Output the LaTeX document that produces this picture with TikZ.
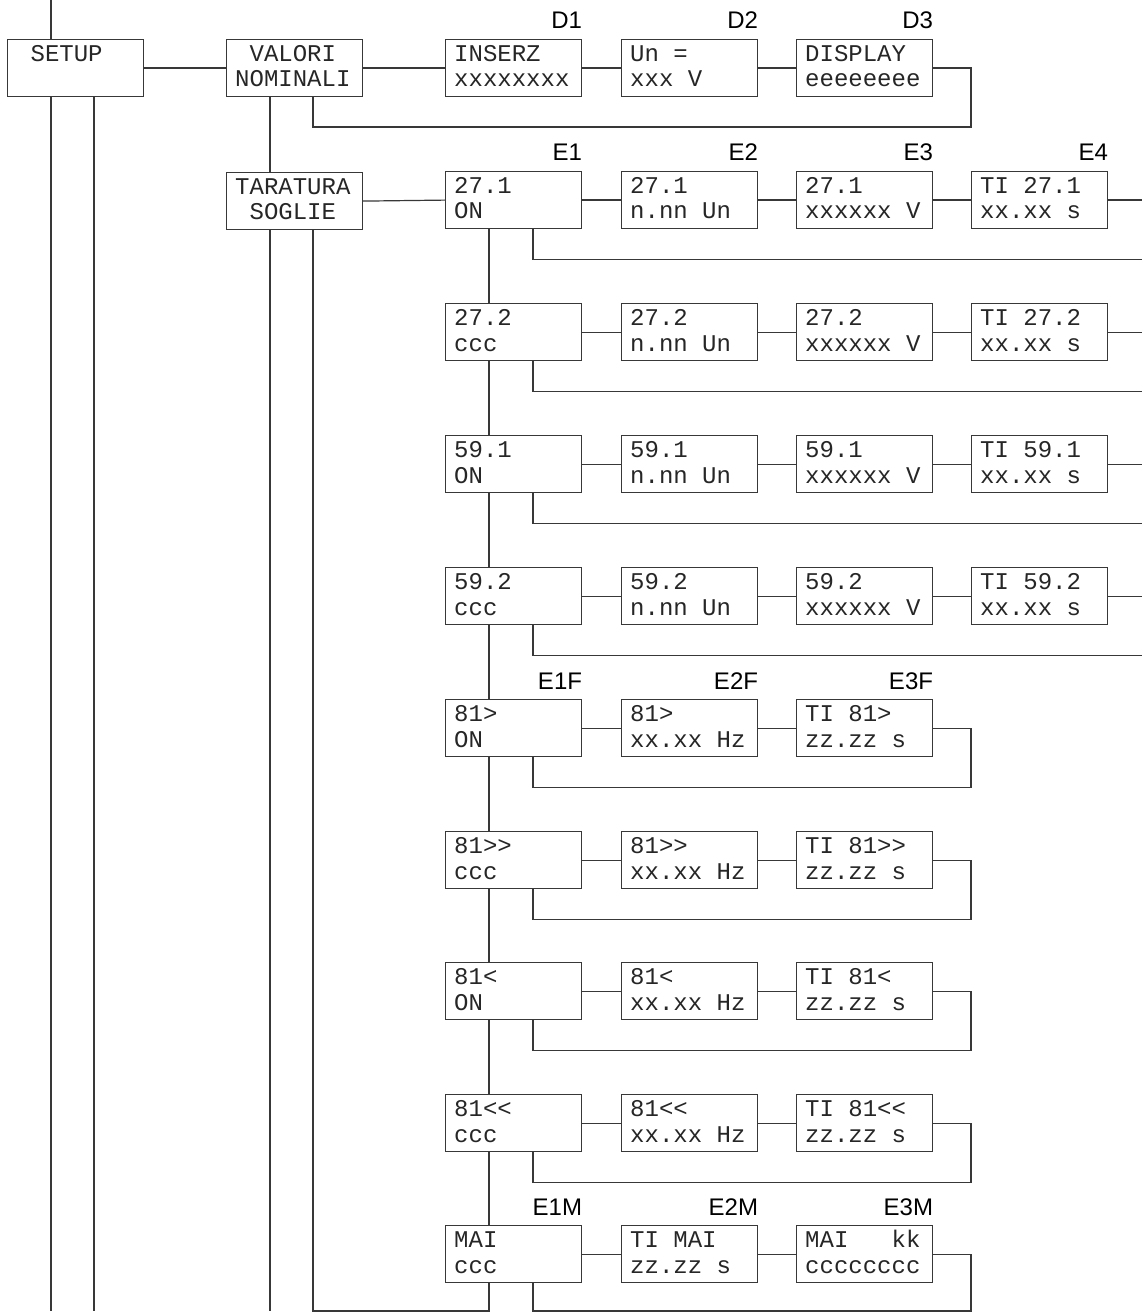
\documentclass[tikz,border=0pt]{standalone}
\usepackage{fontspec}
\setmainfont{Liberation Sans}
\setmonofont{Liberation Mono}
\usetikzlibrary{calc}
\tikzset{
  box/.style={draw=black!78, line width=1.2pt, minimum width=136pt, minimum height=57pt, inner sep=0pt, anchor=north west},
  btxt/.style={anchor=base west, inner sep=0pt, font=\ttfamily\fontsize{24}{26}\selectfont, text=black!85},
  lbl/.style={anchor=base east, inner sep=0pt, font=\fontsize{24}{26}\selectfont},
  conn/.style={draw=black!78, line width=1.2pt},
}
\newcommand\bx[5]{%
  \node[box] (#1) at (#2,#3) {};
  \node[btxt] (#1a) at ($(#1.north west)+(9,22.5)$) {#4};
  \node[btxt] (#1b) at ($(#1.north west)+(9,48)$) {#5};}
\newcommand\lb[2]{\node[lbl] (#1l) at ($(#1.north east)+(0,-10)$) {#2};}
\begin{document}
\begin{tikzpicture}[x=1pt,y=-1pt]
\useasboundingbox (0,0) rectangle (1142,1313);
\coordinate (btm) at (0,1311);
\coordinate (redge) at (1142,0);
\coordinate (xa) at (51,0);
\coordinate (xb) at (94,0);
\coordinate (xc) at (270,0);
\coordinate (xd) at (313,0);
\coordinate (xe) at (489,0);
\coordinate (xf) at (533,0);
\coordinate (xg) at (971,0);
\coordinate (lp0) at (0,127);

% left column boxes
\bx{setup}{7}{39}{\hphantom{X}SETUP}{}
\bx{valori}{226}{39}{\hphantom{X}VALORI}{NOMINALI}
\bx{tara}{226}{172}{TARATURA}{\hphantom{X}SOGLIE}

% D row
\bx{d1}{445}{39}{INSERZ}{xxxxxxxx}
\bx{d2}{621}{39}{Un =}{xxx V}
\bx{d3}{796}{39}{DISPLAY}{eeeeeeee}
\lb{d1}{D1}\lb{d2}{D2}\lb{d3}{D3}

% E rows
\bx{r1c1}{445}{171}{27.1}{ON}
\bx{r1c2}{621}{171}{27.1}{n.nn Un}
\bx{r1c3}{796}{171}{27.1}{xxxxxx V}
\bx{r1c4}{971}{171}{TI 27.1}{xx.xx s}
\lb{r1c1}{E1}\lb{r1c2}{E2}\lb{r1c3}{E3}\lb{r1c4}{E4}

\bx{r2c1}{445}{303}{27.2}{ccc}
\bx{r2c2}{621}{303}{27.2}{n.nn Un}
\bx{r2c3}{796}{303}{27.2}{xxxxxx V}
\bx{r2c4}{971}{303}{TI 27.2}{xx.xx s}

\bx{r3c1}{445}{435}{59.1}{ON}
\bx{r3c2}{621}{435}{59.1}{n.nn Un}
\bx{r3c3}{796}{435}{59.1}{xxxxxx V}
\bx{r3c4}{971}{435}{TI 59.1}{xx.xx s}

\bx{r4c1}{445}{567}{59.2}{ccc}
\bx{r4c2}{621}{567}{59.2}{n.nn Un}
\bx{r4c3}{796}{567}{59.2}{xxxxxx V}
\bx{r4c4}{971}{567}{TI 59.2}{xx.xx s}

% F rows
\bx{r5c1}{445}{699}{81>}{ON}
\bx{r5c2}{621}{699}{81>}{xx.xx Hz}
\bx{r5c3}{796}{699}{TI 81>}{zz.zz s}
\lb{r5c1}{E1F}\lb{r5c2}{E2F}\lb{r5c3}{E3F}

\bx{r6c1}{445}{831}{81>>}{ccc}
\bx{r6c2}{621}{831}{81>>}{xx.xx Hz}
\bx{r6c3}{796}{831}{TI 81>>}{zz.zz s}

\bx{r7c1}{445}{962}{81<}{ON}
\bx{r7c2}{621}{962}{81<}{xx.xx Hz}
\bx{r7c3}{796}{962}{TI 81<}{zz.zz s}

\bx{r8c1}{445}{1094}{81<<}{ccc}
\bx{r8c2}{621}{1094}{81<<}{xx.xx Hz}
\bx{r8c3}{796}{1094}{TI 81<<}{zz.zz s}

% M row
\bx{r9c1}{445}{1225}{MAI}{ccc}
\bx{r9c2}{621}{1225}{TI MAI}{zz.zz s}
\bx{r9c3}{796}{1225}{MAI\hphantom{XXX}kk}{cccccccc}
\lb{r9c1}{E1M}\lb{r9c2}{E2M}\lb{r9c3}{E3M}

% connectors, left part
\draw[conn] (xa) -- (setup.north -| xa);
\draw[conn] (setup.south -| xa) -- (btm -| xa);
\draw[conn] (setup.south -| xb) -- (btm -| xb);
\draw[conn] (setup.east) -- (valori.west);
\draw[conn] (valori.east) -- (d1.west);
\draw[conn] (d1.east) -- (d2.west);
\draw[conn] (d2.east) -- (d3.west);
\draw[conn] (d3.east) -- (d3.east -| xg) -- (xg |- lp0) -- (xd |- lp0) -- (valori.south -| xd);
\draw[conn] (valori.south -| xc) -- (tara.north -| xc);
\draw[conn] (tara.east) -- (r1c1.west);
\draw[conn] (tara.south -| xc) -- (btm -| xc);
\draw[conn] (tara.south -| xd) -- (btm -| xd) -- (btm -| xe) -- (r9c1.south -| xe);

% vertical chain
\foreach \a/\b in {1/2,2/3,3/4,4/5,5/6,6/7,7/8,8/9}
  \draw[conn] (r\a c1.south -| xe) -- (r\b c1.north -| xe);

% E rows (continue beyond right edge)
\foreach \r in {1,2,3,4}{
  \draw[conn] (r\r c1.east) -- (r\r c2.west);
  \draw[conn] (r\r c2.east) -- (r\r c3.west);
  \draw[conn] (r\r c3.east) -- (r\r c4.west);
  \draw[conn] (r\r c4.east) -- (r\r c4.east -| redge);
  \draw[conn] (r\r c1.south -| xf) |- ($(r\r c4.south -| redge)+(0,30.5)$);
}
% F rows (loop back)
\foreach \r in {5,6,7,8}{
  \draw[conn] (r\r c1.east) -- (r\r c2.west);
  \draw[conn] (r\r c2.east) -- (r\r c3.west);
  \draw[conn] (r\r c3.east) -| ($(r\r c3.south -| xg)+(0,30.5)$) -| (r\r c1.south -| xf);
}
% M row (loop along the bottom)
\draw[conn] (r9c1.east) -- (r9c2.west);
\draw[conn] (r9c2.east) -- (r9c3.west);
\draw[conn] (r9c3.east) -| (btm -| xg) -| (r9c1.south -| xf);
\end{tikzpicture}
\end{document}
